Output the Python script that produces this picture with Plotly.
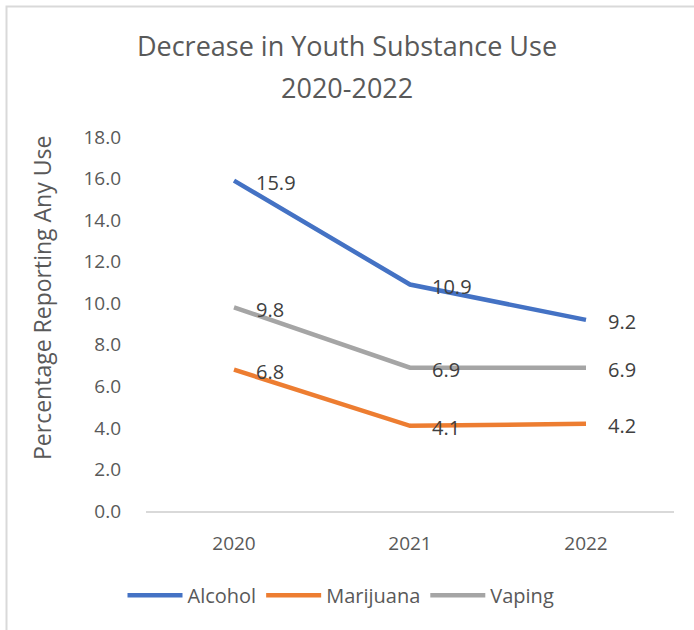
import plotly.graph_objects as go

years = ["2020", "2021", "2022"]
alcohol = [15.9, 10.9, 9.2]
marijuana = [6.8, 4.1, 4.2]
vaping = [9.8, 6.9, 6.9]
y_ticks = [0, 2, 4, 6, 8, 10, 12, 14, 16, 18]

series = [
    ("Alcohol", alcohol, "#4472C4"),
    ("Marijuana", marijuana, "#ED7D31"),
    ("Vaping", vaping, "#A5A5A5"),
]

FONT = "Open Sans, Liberation Sans, sans-serif"
GREY = "#595959"

fig = go.Figure()
for name, vals, color in series:
    fig.add_trace(go.Scatter(
        x=years, y=vals, name=name, mode="lines",
        line=dict(color=color, width=4.5),
        hoverinfo="skip",
    ))
    for i, v in enumerate(vals):
        fig.add_annotation(
            x=i, y=v, text=f"{v:.1f}", showarrow=False,
            xanchor="left", yanchor="middle", xshift=20, yshift=-2,
            font=dict(family=FONT, size=20, color="#404040"),
        )

# second title line and vertical y-axis title
fig.add_annotation(
    text="2020-2022", xref="paper", yref="paper",
    x=(347 - 146) / 528, y=(511 - 88) / 374, xanchor="center", yanchor="middle",
    showarrow=False, font=dict(family=FONT, size=27, color=GREY),
)
fig.add_annotation(
    text="Percentage Reporting Any Use", xref="paper", yref="paper",
    x=(42 - 146) / 528, y=(511 - 298) / 374, xanchor="center", yanchor="middle",
    textangle=-90, showarrow=False, font=dict(family=FONT, size=23, color=GREY),
)

fig.update_layout(
    width=694, height=630,
    paper_bgcolor="white", plot_bgcolor="white",
    margin=dict(l=146, r=20, t=137, b=119),
    title=dict(
        text="Decrease in Youth Substance Use",
        x=0.5, xanchor="center", y=1 - 47 / 630, yanchor="middle",
        font=dict(family=FONT, size=27, color=GREY),
    ),
    font=dict(family=FONT, color=GREY),
    showlegend=True,
    legend=dict(
        orientation="h", x=(341 - 146) / 528, xanchor="center", y=-0.225, yanchor="middle",
        font=dict(family=FONT, size=20, color=GREY),
        traceorder="normal", itemwidth=55,
    ),
    shapes=[dict(type="rect", xref="paper", yref="paper",
                 x0=(6.5 - 146) / 528, x1=(720 - 146) / 528,
                 y0=(511 - 660) / 374, y1=(511 - 6.5) / 374,
                 line=dict(color="#D9D9D9", width=2))],
)
fig.update_xaxes(
    type="category", range=[-0.5, 2.5],
    showgrid=False, showline=True, linecolor="#D9D9D9", linewidth=1.5,
    ticks="", tickfont=dict(family=FONT, size=19, color=GREY),
    ticklabelstandoff=14,
)
fig.update_yaxes(
    range=[0, 18], tickvals=y_ticks, tickformat=".1f",
    showgrid=False, zeroline=False, showline=False,
    tickfont=dict(family=FONT, size=19, color=GREY),
    ticklabelstandoff=24,
)

fig.write_html("out.html")
